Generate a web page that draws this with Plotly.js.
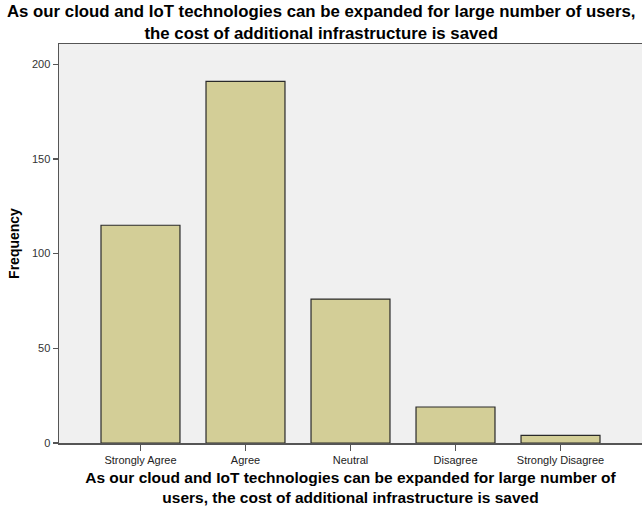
<!DOCTYPE html>
<html>
<head>
<meta charset="utf-8">
<script src="https://cdn.plot.ly/plotly-3.0.1.min.js"></script>
<style>html,body{margin:0;padding:0;background:#fff;}</style>
</head>
<body>
<div id="chart" style="width:642px;height:506px;"></div>
<script>
const categories = ["Strongly Agree", "Agree", "Neutral", "Disagree", "Strongly Disagree"];
const frequencies = [115, 191, 76, 19, 4];
const yTicks = [0, 50, 100, 150, 200];
const chartTitle = "As our cloud and IoT technologies can be expanded for large number of users,<br>the cost of additional infrastructure is saved";
const xTitle = "As our cloud and IoT technologies can be expanded for large number of<br>users, the cost of additional infrastructure is saved";

const trace = {
  type: "bar",
  x: categories,
  y: frequencies,
  marker: { color: "#d3ce97", line: { color: "#2a2a2a", width: 1.2 } },
  hoverinfo: "x+y"
};

const layout = {
  width: 642,
  height: 506,
  margin: { l: 59, r: 0, t: 44, b: 63 },
  paper_bgcolor: "#ffffff",
  plot_bgcolor: "#f0f0f0",
  bargap: 0.248,
  showlegend: false,
  font: { family: "Liberation Sans, Arial, sans-serif", color: "#222" },
  annotations: [{
    text: chartTitle,
    xref: "paper", x: 0.4497, xanchor: "center",
    yref: "paper", y: 1.054, yanchor: "middle",
    showarrow: false,
    font: { size: 16.8, family: "Liberation Sans, Arial, sans-serif", color: "#000", weight: "bold" }
  }],
  xaxis: {
    type: "category",
    range: [-0.776, 4.776],
    showgrid: false,
    zeroline: false,
    showline: true, linecolor: "#555", linewidth: 1.5, mirror: true,
    ticks: "outside", ticklen: 6, tickcolor: "#555", tickwidth: 1.5,
    tickfont: { size: 11, color: "#222" },
    title: {
      text: xTitle,
      font: { size: 15.5, color: "#000", weight: "bold" },
      standoff: 8
    }
  },
  yaxis: {
    range: [0, 210.7],
    tickvals: yTicks,
    showgrid: false,
    zeroline: false,
    showline: true, linecolor: "#555", linewidth: 1.5,
    ticks: "outside", ticklen: 5, tickcolor: "#555", tickwidth: 1.5,
    tickfont: { size: 11, color: "#333" },
    title: { text: "Frequency", font: { size: 14, color: "#000", weight: "bold" }, standoff: 9 }
  }
};

Plotly.newPlot("chart", [trace], layout, { displayModeBar: false, staticPlot: true });
</script>
</body>
</html>
